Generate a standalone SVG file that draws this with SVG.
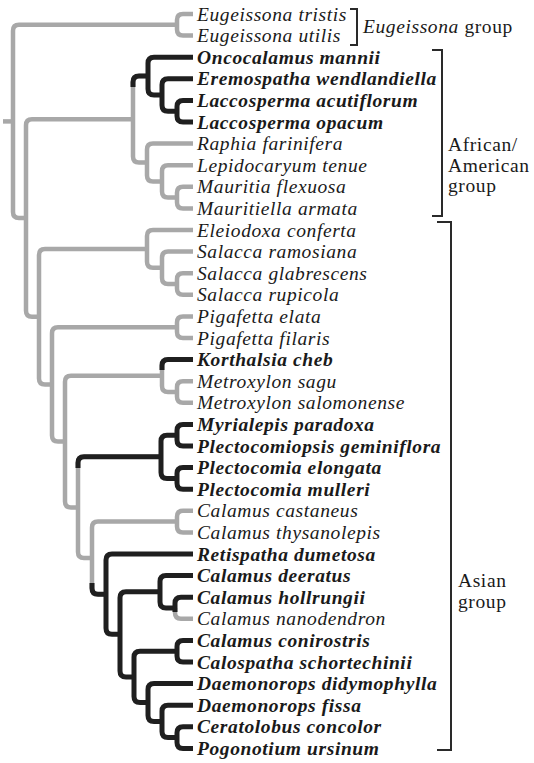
<svg xmlns="http://www.w3.org/2000/svg" width="534" height="763" viewBox="0 0 534 763">
<style>
.g{fill:none;stroke:#a8a8a8;stroke-width:4.5;stroke-linecap:butt;stroke-linejoin:round}
.k{fill:none;stroke:#1f1f1f;stroke-width:5;stroke-linecap:butt;stroke-linejoin:round}
.br{fill:none;stroke:#2a2a2a;stroke-width:2}
text{font-family:"Liberation Serif","Times New Roman",serif;font-size:19.5px;letter-spacing:0.6px;fill:#1a1a1a}
.n{font-style:italic}
.b{font-style:italic;font-weight:bold}
</style>
<rect width="534" height="763" fill="#ffffff"/>
<g id="connectors">
<path class="g" d="M 3 121.4 H 13"/>
<path class="g" d="M 177 24.8 H 19 Q 13 24.8 13 30.8 V 212 Q 13 218 19 218 H 26"/>
<path class="g" d="M 193 14 H 183 Q 177 14 177 20 V 29.6 Q 177 35.6 183 35.6 H 193"/>
<path class="g" d="M 133 119.3 H 32 Q 26 119.3 26 125.3 V 310.7 Q 26 316.7 32 316.7 H 39"/>
<path class="g" d="M 148 76.1 H 139 Q 133 76.1 133 82.1 V 156.5 Q 133 162.5 139 162.5 H 147"/>
<path class="g" d="M 193 143.6 H 153 Q 147 143.6 147 149.6 V 175.4 Q 147 181.4 153 181.4 H 162"/>
<path class="g" d="M 193 165.2 H 168 Q 162 165.2 162 171.2 V 191.6 Q 162 197.6 168 197.6 H 177"/>
<path class="g" d="M 193 186.8 H 183 Q 177 186.8 177 192.8 V 202.4 Q 177 208.4 183 208.4 H 193"/>
<path class="g" d="M 147 248.9 H 45 Q 39 248.9 39 254.9 V 378.4 Q 39 384.4 45 384.4 H 52"/>
<path class="g" d="M 193 230 H 153 Q 147 230 147 236 V 261.8 Q 147 267.8 153 267.8 H 162"/>
<path class="g" d="M 193 251.6 H 168 Q 162 251.6 162 257.6 V 278 Q 162 284 168 284 H 177"/>
<path class="g" d="M 193 273.2 H 183 Q 177 273.2 177 279.2 V 288.8 Q 177 294.8 183 294.8 H 193"/>
<path class="g" d="M 177 327.2 H 58 Q 52 327.2 52 333.2 V 435.6 Q 52 441.6 58 441.6 H 65"/>
<path class="g" d="M 193 316.4 H 183 Q 177 316.4 177 322.4 V 332 Q 177 338 183 338 H 193"/>
<path class="g" d="M 162 375.8 H 71 Q 65 375.8 65 381.8 V 501.4 Q 65 507.4 71 507.4 H 78"/>
<path class="g" d="M 193 359.6 H 168 Q 162 359.6 162 365.6 V 386 Q 162 392 168 392 H 177"/>
<path class="g" d="M 193 381.2 H 183 Q 177 381.2 177 387.2 V 396.8 Q 177 402.8 183 402.8 H 193"/>
<path class="g" d="M 161 456.8 H 84 Q 78 456.8 78 462.8 V 551.9 Q 78 557.9 84 557.9 H 92"/>
<path class="g" d="M 177 521.6 H 98 Q 92 521.6 92 527.6 V 588.2 Q 92 594.2 98 594.2 H 106"/>
<path class="g" d="M 193 510.8 H 183 Q 177 510.8 177 516.8 V 526.4 Q 177 532.4 183 532.4 H 193"/>
<path class="g" d="M 175 608 V 612.8 Q 175 618.8 181 618.8 H 193"/>
<path class="k" d="M 148 76.1 H 139 Q 133 76.1 133 82.1 V 87"/>
<path class="k" d="M 193 57.2 H 154 Q 148 57.2 148 63.2 V 89 Q 148 95 154 95 H 162"/>
<path class="k" d="M 193 78.8 H 168 Q 162 78.8 162 84.8 V 105.2 Q 162 111.2 168 111.2 H 177"/>
<path class="k" d="M 193 100.4 H 183 Q 177 100.4 177 106.4 V 116 Q 177 122 183 122 H 193"/>
<path class="k" d="M 193 359.6 H 168 Q 162 359.6 162 365.6 V 370"/>
<path class="k" d="M 161 456.8 H 84 Q 78 456.8 78 462.8 V 468"/>
<path class="k" d="M 177 435.2 H 167 Q 161 435.2 161 441.2 V 472.4 Q 161 478.4 167 478.4 H 177"/>
<path class="k" d="M 193 424.4 H 183 Q 177 424.4 177 430.4 V 440 Q 177 446 183 446 H 193"/>
<path class="k" d="M 193 467.6 H 183 Q 177 467.6 177 473.6 V 483.2 Q 177 489.2 183 489.2 H 193"/>
<path class="k" d="M 92 583 V 588.2 Q 92 594.2 98 594.2 H 106"/>
<path class="k" d="M 193 554 H 112 Q 106 554 106 560 V 628.3 Q 106 634.3 112 634.3 H 120"/>
<path class="k" d="M 160 591.8 H 126 Q 120 591.8 120 597.8 V 670.9 Q 120 676.9 126 676.9 H 134"/>
<path class="k" d="M 193 575.6 H 166 Q 160 575.6 160 581.6 V 602 Q 160 608 166 608 H 175"/>
<path class="k" d="M 193 597.2 H 181 Q 175 597.2 175 603.2 V 612"/>
<path class="k" d="M 177 651.2 H 140 Q 134 651.2 134 657.2 V 696.5 Q 134 702.5 140 702.5 H 148"/>
<path class="k" d="M 193 640.4 H 183 Q 177 640.4 177 646.4 V 656 Q 177 662 183 662 H 193"/>
<path class="k" d="M 193 683.6 H 154 Q 148 683.6 148 689.6 V 715.4 Q 148 721.4 154 721.4 H 162"/>
<path class="k" d="M 193 705.2 H 168 Q 162 705.2 162 711.2 V 731.6 Q 162 737.6 168 737.6 H 177"/>
<path class="k" d="M 193 726.8 H 183 Q 177 726.8 177 732.8 V 742.4 Q 177 748.4 183 748.4 H 193"/>
</g>
<g id="leaf-eugeissona-tristis"><text class="n" x="197" y="20.5">Eugeissona tristis</text></g>
<g id="leaf-eugeissona-utilis"><text class="n" x="197" y="42.1">Eugeissona utilis</text></g>
<g id="leaf-oncocalamus-mannii"><text class="b" x="197" y="63.7">Oncocalamus mannii</text></g>
<g id="leaf-eremospatha-wendlandiella"><text class="b" x="197" y="85.3">Eremospatha wendlandiella</text></g>
<g id="leaf-laccosperma-acutiflorum"><text class="b" x="197" y="106.9">Laccosperma acutiflorum</text></g>
<g id="leaf-laccosperma-opacum"><text class="b" x="197" y="128.5">Laccosperma opacum</text></g>
<g id="leaf-raphia-farinifera"><text class="n" x="197" y="150.1">Raphia farinifera</text></g>
<g id="leaf-lepidocaryum-tenue"><text class="n" x="197" y="171.7">Lepidocaryum tenue</text></g>
<g id="leaf-mauritia-flexuosa"><text class="n" x="197" y="193.3">Mauritia flexuosa</text></g>
<g id="leaf-mauritiella-armata"><text class="n" x="197" y="214.9">Mauritiella armata</text></g>
<g id="leaf-eleiodoxa-conferta"><text class="n" x="197" y="236.5">Eleiodoxa conferta</text></g>
<g id="leaf-salacca-ramosiana"><text class="n" x="197" y="258.1">Salacca ramosiana</text></g>
<g id="leaf-salacca-glabrescens"><text class="n" x="197" y="279.7">Salacca glabrescens</text></g>
<g id="leaf-salacca-rupicola"><text class="n" x="197" y="301.3">Salacca rupicola</text></g>
<g id="leaf-pigafetta-elata"><text class="n" x="197" y="322.9">Pigafetta elata</text></g>
<g id="leaf-pigafetta-filaris"><text class="n" x="197" y="344.5">Pigafetta filaris</text></g>
<g id="leaf-korthalsia-cheb"><text class="b" x="197" y="366.1">Korthalsia cheb</text></g>
<g id="leaf-metroxylon-sagu"><text class="n" x="197" y="387.7">Metroxylon sagu</text></g>
<g id="leaf-metroxylon-salomonense"><text class="n" x="197" y="409.3">Metroxylon salomonense</text></g>
<g id="leaf-myrialepis-paradoxa"><text class="b" x="197" y="430.9">Myrialepis paradoxa</text></g>
<g id="leaf-plectocomiopsis-geminiflora"><text class="b" x="197" y="452.5">Plectocomiopsis geminiflora</text></g>
<g id="leaf-plectocomia-elongata"><text class="b" x="197" y="474.1">Plectocomia elongata</text></g>
<g id="leaf-plectocomia-mulleri"><text class="b" x="197" y="495.7">Plectocomia mulleri</text></g>
<g id="leaf-calamus-castaneus"><text class="n" x="197" y="517.3">Calamus castaneus</text></g>
<g id="leaf-calamus-thysanolepis"><text class="n" x="197" y="538.9">Calamus thysanolepis</text></g>
<g id="leaf-retispatha-dumetosa"><text class="b" x="197" y="560.5">Retispatha dumetosa</text></g>
<g id="leaf-calamus-deeratus"><text class="b" x="197" y="582.1">Calamus deeratus</text></g>
<g id="leaf-calamus-hollrungii"><text class="b" x="197" y="603.7">Calamus hollrungii</text></g>
<g id="leaf-calamus-nanodendron"><text class="n" x="197" y="625.3">Calamus nanodendron</text></g>
<g id="leaf-calamus-conirostris"><text class="b" x="197" y="646.9">Calamus conirostris</text></g>
<g id="leaf-calospatha-schortechinii"><text class="b" x="197" y="668.5">Calospatha schortechinii</text></g>
<g id="leaf-daemonorops-didymophylla"><text class="b" x="197" y="690.1">Daemonorops didymophylla</text></g>
<g id="leaf-daemonorops-fissa"><text class="b" x="197" y="711.7">Daemonorops fissa</text></g>
<g id="leaf-ceratolobus-concolor"><text class="b" x="197" y="733.3">Ceratolobus concolor</text></g>
<g id="leaf-pogonotium-ursinum"><text class="b" x="197" y="754.9">Pogonotium ursinum</text></g>
<g id="group-eugeissona">
<path class="br" d="M 350 9 H 357 V 45 H 350"/>
<text x="363" y="33"><tspan class="n">Eugeissona</tspan> group</text>
</g>
<g id="group-african-american">
<path class="br" d="M 432 50 H 442 V 216 H 432"/>
<text x="448" y="151">African/</text>
<text x="448" y="172">American</text>
<text x="448" y="192">group</text>
</g>
<g id="group-asian">
<path class="br" d="M 437 222 H 451 V 750 H 437"/>
<text x="458" y="587">Asian</text>
<text x="458" y="608">group</text>
</g>
</svg>
